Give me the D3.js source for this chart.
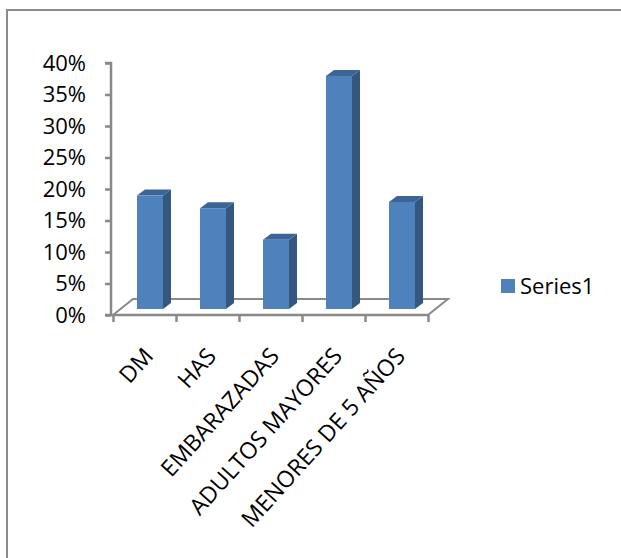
<!DOCTYPE html>
<html>
<head>
<meta charset="utf-8">
<script src="https://cdn.jsdelivr.net/npm/d3@7"></script>
<style>
  html, body { margin: 0; padding: 0; background: #ffffff; }
  svg { display: block; }
  text { font-family: "Open Sans", "DejaVu Sans", sans-serif; fill: #000; }
</style>
</head>
<body>
<svg id="chart" width="621" height="558"></svg>
<script>
// ---- data ----
const categories = ["DM", "HAS", "EMBARAZADAS", "ADULTOS MAYORES", "MENORES DE 5 AÑOS"];
const values = [0.18, 0.16, 0.11, 0.37, 0.17];
const seriesName = "Series1";
const yTicks = [0, 0.05, 0.10, 0.15, 0.20, 0.25, 0.30, 0.35, 0.40];

(function () {
// ---- layout ----
const svg = d3.select("#chart");
const W = 621, H = 558;
const plotLeft = 111, plotRight = 428, plotBottom = 315, plotTop = 63;
const floorDX = 20, floorDY = -16;     // floor depth
const barDX = 8, barDY = -6;           // bar depth
const barShiftY = -6;                  // bars sit mid-floor
const gridCol = "#898989";

// outer frame (top and left visible)
svg.append("path")
  .attr("d", `M7,${H} L7,10 L${W},10`)
  .attr("fill", "none").attr("stroke", "#8c8c8c").attr("stroke-width", 2);

const y = d3.scaleLinear().domain([0, 0.4]).range([plotBottom, plotTop]);
const xIdx = d3.scaleLinear().domain([0, categories.length]).range([plotLeft + 2, plotRight]);
const xBand = d3.scaleBand().domain(categories).range([plotLeft + 2, plotRight]).paddingInner(0).paddingOuter(0);

// floor
const x0 = xIdx(0), x1 = xIdx(categories.length);
svg.append("path")
  .attr("d", `M${x0},${plotBottom} L${x0 + floorDX},${plotBottom + floorDY} L${x1 + floorDX},${plotBottom + floorDY} L${x1},${plotBottom}`)
  .attr("fill", "none").attr("stroke", gridCol).attr("stroke-width", 2);

// y axis
const yAxis = d3.axisLeft(y).tickValues(yTicks).tickFormat(d3.format(".0%")).tickSize(6).tickPadding(19);
const gy = svg.append("g").attr("transform", `translate(${plotLeft},0)`).call(yAxis);
gy.select(".domain").attr("stroke", gridCol).attr("stroke-width", 2.5)
  .attr("d", `M-6,${plotTop}H0V${plotBottom}H-6`);
gy.selectAll(".tick line").attr("stroke", gridCol).attr("stroke-width", 2.5);
gy.selectAll(".tick text").attr("font-size", "22px").attr("font-family", "Open Sans").attr("fill", "#000").attr("dy", "0.34em");

// x axis (ticks between categories)
const xAxis = d3.axisBottom(xIdx).tickValues(d3.range(categories.length + 1)).tickFormat("").tickSize(7).tickSizeOuter(0);
const gx = svg.append("g").attr("transform", `translate(0,${plotBottom})`).call(xAxis);
gx.select(".domain").attr("stroke", gridCol).attr("stroke-width", 2.5).attr("d", `M${x0 - 2},0H${x1}`);
gx.selectAll(".tick line").attr("stroke", gridCol).attr("stroke-width", 2.5);

// bars
const bw = 26, bOff = 24;
const bars = svg.append("g");
categories.forEach((c, i) => {
  const bx = xBand(c) + bOff;
  const by0 = y(0) + barShiftY;
  const by1 = y(values[i]) + barShiftY;
  const g = bars.append("g");
  g.append("path")
    .attr("d", `M${bx + bw},${by0} L${bx + bw + barDX},${by0 + barDY} L${bx + bw + barDX},${by1 + barDY} L${bx + bw},${by1} Z`)
    .attr("fill", "#34577f");
  g.append("path")
    .attr("d", `M${bx},${by1} L${bx + barDX},${by1 + barDY} L${bx + bw + barDX},${by1 + barDY} L${bx + bw},${by1} Z`)
    .attr("fill", "#3c6497");
  g.append("rect")
    .attr("x", bx).attr("y", by1).attr("width", bw).attr("height", by0 - by1)
    .attr("fill", "#4f81bd");
});

// category labels
const labels = svg.append("g");
categories.forEach((c) => {
  const cx = xBand(c) + xBand.bandwidth() / 2 + 10;
  const cy = 357;
  labels.append("text")
    .attr("transform", `translate(${cx},${cy}) rotate(-48)`)
    .attr("text-anchor", "end")
    .attr("font-size", "23px")
    .text(c);
});

// legend
svg.append("rect").attr("x", 501).attr("y", 279).attr("width", 14).attr("height", 14).attr("fill", "#4f81bd");
svg.append("text").attr("x", 520).attr("y", 294).attr("font-size", "22px").text(seriesName);
})();
</script>
</body>
</html>
